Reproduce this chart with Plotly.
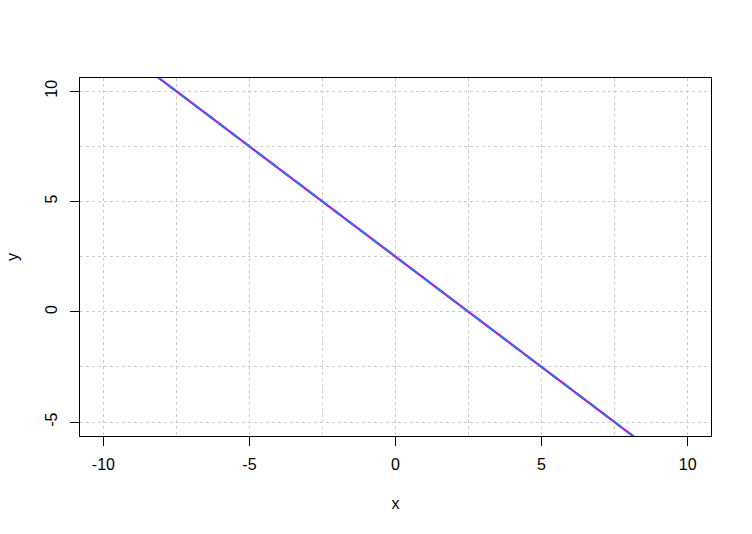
import plotly.graph_objects as go

# Data
x_vals = [-10, 10]
y_vals = [12.5, -7.5]
x_ticks = [-10, -5, 0, 5, 10]
x_labels = ["-10", "-5", "0", "5", "10"]
y_ticks = [-5, 0, 5, 10]
y_labels = ["-5", "0", "5", "10"]

font = dict(family="Liberation Sans, Arial, sans-serif", size=16, color="black")

fig = go.Figure()
fig.add_trace(go.Scatter(x=x_vals, y=y_vals, mode="lines",
                         line=dict(color="#A020F0", width=2.2), showlegend=False))
fig.add_trace(go.Scatter(x=x_vals, y=y_vals, mode="lines",
                         line=dict(color="#4169E1", width=2.2, dash="10px,6px"), showlegend=False))

grid_common = dict(showgrid=True, gridcolor="#CCCCCC", gridwidth=1, griddash="3px,3px")
minor_common = dict(dtick=2.5, tick0=0, showgrid=True, gridcolor="#CCCCCC",
                    griddash="3px,3px", ticklen=0)

fig.update_layout(
    width=752, height=534,
    paper_bgcolor="white", plot_bgcolor="white",
    margin=dict(l=78, r=41, t=78, b=98),
    font=font,
    xaxis=dict(range=[-10.8, 10.8], tickvals=x_ticks, ticktext=x_labels,
               ticks="outside", ticklen=9,
               tickcolor="black", showline=True, linecolor="black", linewidth=1.3,
               mirror=True, zeroline=False,
               minor=minor_common,
               title=dict(text="x", standoff=25, font=font),
               ticklabelstandoff=5,
               **grid_common),
    yaxis=dict(range=[-5.63, 10.6], tickvals=y_ticks, ticktext=y_labels,
               ticks="outside", ticklen=9,
               tickcolor="black", showline=True, linecolor="black", linewidth=1.3,
               mirror=True, zeroline=False, tickangle=-90,
               minor=minor_common,
               title=dict(text="y", standoff=20, font=font),
               ticklabelstandoff=6,
               **grid_common),
)

fig.write_html("out.html", config={"displayModeBar": False},
               post_script="document.body.style.margin='0px';")
